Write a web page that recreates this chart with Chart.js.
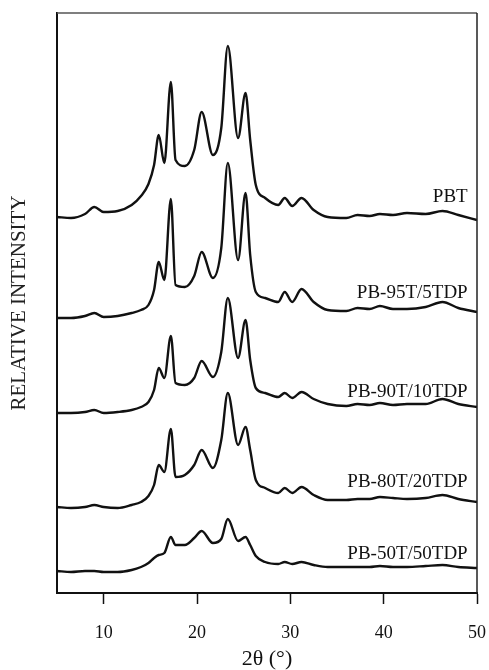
<!DOCTYPE html>
<html>
<head>
<meta charset="utf-8">
<script src="https://cdn.jsdelivr.net/npm/chart.js@4"></script>
<style>
body{margin:0;background:#fff;}
#wrap{width:489px;height:670px;}
</style>
</head>
<body>
<div id="wrap"><canvas id="chart" width="489" height="670"></canvas></div>
<script>

// 2-theta positions (deg)
let twoTheta = [5,6.5,8,9,10,11.5,13,14,14.8,15.4,15.9,16.5,17.2,17.7,18.7,19.7,20.5,21.7,22.6,23.3,24.4,25.2,25.7,26.3,27.3,28.7,29.4,30.2,31.2,32.5,34,36,37.2,38.5,39.6,41,42.5,44.5,46.3,48,50];

// stacked intensities (relative units, offsets included)
let pbt = [376,375,379,386,381,382,388,397,409,428,458,430,511,433,427,443,481,438,465,547,455,500,453,408,395,388,395,387,395,383,376,375,378,377,379,378,380,379,382,378,373];
let pb95 = [275,275,277,280,276,277,280,283,288,303,331,313,394,308,306,317,341,315,345,430,333,400,338,301,295,291,301,291,304,291,283,282,285,284,287,284,284,286,291,285,281];
let pb90 = [180,180,181,183,180,181,183,186,191,203,225,215,257,210,208,215,232,216,241,295,235,273,233,205,200,196,200,195,201,194,189,187,189,188,190,188,189,189,194,189,186];
let pb80 = [86,85,86,88,86,85,88,91,97,108,128,121,164,116,118,128,143,125,153,200,148,166,143,113,105,100,105,100,106,98,93,93,94,94,96,95,94,95,98,94,91];
let pb50 = [22,21,22,22,21,21,23,26,30,35,38,40,56,48,48,55,62,50,54,74,52,56,48,37,31,29,31,29,31,28,26,26,26,26,27,26,26,27,28,26,25];

let seriesNames = ["PBT","PB-95T/5TDP","PB-90T/10TDP","PB-80T/20TDP","PB-50T/50TDP"];
let seriesData = [pbt,pb95,pb90,pb80,pb50];

let xTicks = [10,20,30,40,50];

const SERIF = "'Liberation Serif','Times New Roman',serif";

// =====================
// curve labels + box frame
// =====================

let labelGap = [23,19,15,20,14];

const extras = {
id:"extras",
afterDatasetsDraw(chart){
let ctx = chart.ctx;
let xs = chart.scales.x, ys = chart.scales.y;
let a = chart.chartArea;

ctx.save();
ctx.font = "19px " + SERIF;
ctx.fillStyle = "#111";
ctx.textAlign = "right";
ctx.textBaseline = "middle";
chart.data.datasets.forEach((ds,i)=>{
let last = ds.data[ds.data.length-1].y;
ctx.fillText(ds.label, xs.getPixelForValue(49), ys.getPixelForValue(last + labelGap[i]));
});

// top and right edges of the frame
ctx.strokeStyle = "#555";
ctx.lineWidth = 1.3;
ctx.beginPath();
ctx.moveTo(a.left, a.top);
ctx.lineTo(a.right, a.top);
ctx.stroke();
ctx.strokeStyle = "#222";
ctx.lineWidth = 1.5;
ctx.beginPath();
ctx.moveTo(a.right, a.top);
ctx.lineTo(a.right, a.bottom);
ctx.stroke();
ctx.restore();
}
};

new Chart(document.getElementById("chart"),{

type:"line",

data:{
datasets: seriesNames.map((name,i)=>({
label:name,
data: twoTheta.map((t,k)=>({x:t, y:seriesData[i][k]})),
borderColor:"#111",
borderWidth:2.4,
pointRadius:0,
cubicInterpolationMode:"monotone",
borderJoinStyle:"round"
}))
},

options:{
responsive:false,
animation:false,
devicePixelRatio:1,
layout:{padding:{top:13,right:12,left:0,bottom:0}},
plugins:{legend:{display:false},tooltip:{enabled:false}},
scales:{
x:{
type:"linear",
min:5,
max:50,
afterBuildTicks(scale){ scale.ticks = xTicks.map(v=>({value:v})); },
afterFit(scale){ scale.height = 77; scale.paddingLeft = 0; scale.paddingRight = 0; },
ticks:{color:"#111",font:{family:SERIF,size:18},padding:18,maxRotation:0},
grid:{display:true,drawOnChartArea:false,drawTicks:true,tickLength:11,tickColor:"#111",tickWidth:1.5},
border:{display:true,color:"#111",width:2},
title:{display:true,text:"2θ (°)",color:"#111",font:{family:SERIF,size:22,lineHeight:1},padding:{top:0,bottom:0}}
},
y:{
min:0,
max:580,
afterFit(scale){ scale.width = 57; scale.paddingTop = 0; scale.paddingBottom = 0; },
ticks:{display:false},
grid:{display:false},
border:{display:true,color:"#111",width:2},
title:{display:true,text:"RELATIVE INTENSITY",color:"#222",font:{family:SERIF,size:21,lineHeight:1.2},padding:{top:7,bottom:0}}
}
}
},

plugins:[extras]
});

</script>
</body>
</html>
